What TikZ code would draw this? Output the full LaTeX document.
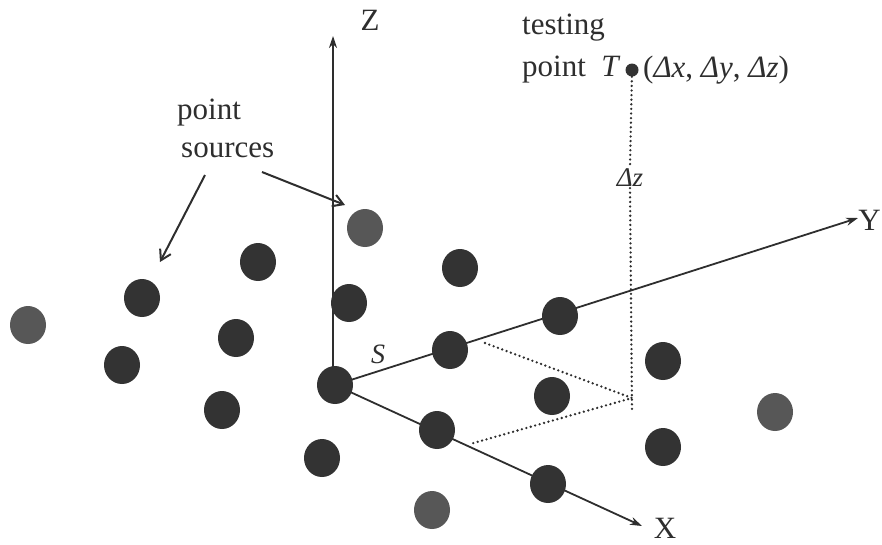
\documentclass[tikz,border=0pt]{standalone}
\usepackage{fontspec}
\setmainfont{Liberation Serif}
\usetikzlibrary{arrows.meta,shapes.geometric}
\definecolor{dk}{HTML}{333333}
\definecolor{gr}{HTML}{575757}
\definecolor{ln}{HTML}{2E2E2E}
\begin{document}
\begin{tikzpicture}[x=1pt,y=-1pt,
  srcdark/.style={ellipse,fill=dk,inner sep=0pt,minimum width=36pt,minimum height=38pt},
  srcgray/.style={ellipse,fill=gr,inner sep=0pt,minimum width=36pt,minimum height=38pt},
  axisline/.style={draw=ln,line width=1.8pt,-{Stealth[length=12pt,width=8pt]}},
  pointer/.style={draw=ln,line width=2pt,-{Straight Barb[length=10pt,width=12pt]}},
  guide/.style={draw=ln,line width=2.6pt,line cap=round,dash pattern=on 0pt off 4.6pt},
  lbl/.style={font=\fontsize{31}{36}\selectfont,inner sep=1pt,text=ln}]
\useasboundingbox (0,0) rectangle (882,544);
% axes
\coordinate (zt) at (333,36);
\coordinate (yt) at (858,218);
\coordinate (xt) at (642,526);
\coordinate (o) at (335,385);
\draw[axisline] (333,385) -- (zt);
\draw[axisline] (o) -- (yt);
\draw[axisline] (o) -- (xt);
\node[lbl] (zl) at (370,20) {Z};
\node[lbl,anchor=east] (yl) at (882,220) {Y};
\node[lbl] (xl) at (665,528) {X};
% dotted guides
\node[circle,fill=dk,inner sep=0pt,minimum size=13pt] (T) at (632,70) {};
\node[lbl,font=\fontsize{27}{30}\selectfont\itshape] (dz) at (630,178) {Δz};
\coordinate (base) at (632,398);
\coordinate (vend) at (632,410);
\coordinate (ypt) at (485,343);
\coordinate (xpt) at (470,444);
\draw[guide] (T) -- (dz.north);
\draw[guide] (dz.south) -- (vend);
\draw[guide] (ypt) -- (base) -- (xpt);
% point sources
\node[srcgray] (p1) at (365,228) {};
\node[srcdark] (p2) at (258,262) {};
\node[srcdark] (p3) at (460,268) {};
\node[srcdark] (p4) at (142,298) {};
\node[srcdark] (p5) at (349,303) {};
\node[srcgray] (p6) at (28,325) {};
\node[srcdark] (p7) at (236,338) {};
\node[srcdark] (p8) at (450,350) {};
\node[srcdark] (p9) at (122,365) {};
\node[srcdark] (p10) at (560,316) {};
\node[srcdark] (p11) at (663,361) {};
\node[srcdark] (p12) at (335,385) {};
\node[srcdark] (p13) at (552,396) {};
\node[srcdark] (p14) at (222,410) {};
\node[srcgray] (p15) at (775,412) {};
\node[srcdark] (p16) at (437,430) {};
\node[srcdark] (p17) at (663,447) {};
\node[srcdark] (p18) at (322,458) {};
\node[srcdark] (p19) at (548,484) {};
\node[srcgray] (p20) at (432,510) {};
% labels
\node[lbl,font=\fontsize{28}{32}\selectfont\itshape] (S) at (378,354) {S};
\node[lbl,anchor=west] (testing) at (521,28) {testing};
\node[lbl,anchor=west] (pointT) at (521,70) {point\enspace\textit{T}};
\node[lbl,anchor=west] (coords) at (642,70) {(\textit{Δx}, \textit{Δy}, \textit{Δz})};
\node[lbl,anchor=west] (ps1) at (176,113) {point};
\node[lbl,anchor=west] (ps2) at (180,150) {sources};
\coordinate (a1s) at (205,175);
\coordinate (a2s) at (262,172);
\draw[pointer] (a1s) -- (160,262);
\draw[pointer] (a2s) -- (345,205);
\end{tikzpicture}
\end{document}
